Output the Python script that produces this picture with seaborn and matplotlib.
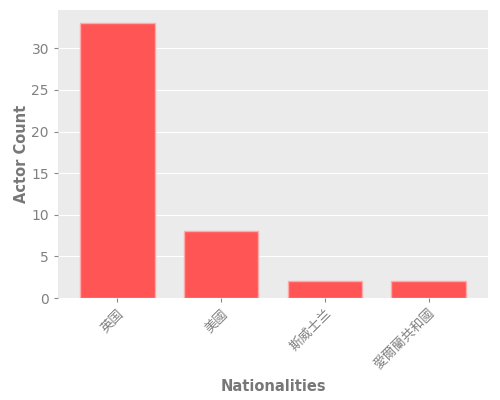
import matplotlib
matplotlib.use("Agg")
import matplotlib.pyplot as plt
import pandas as pd
import seaborn as sns

nationalities = ["英国", "美國", "斯威士兰", "愛爾蘭共和國"]
actor_counts = [33, 8, 2, 2]

df = pd.DataFrame({"nationality": nationalities, "count": actor_counts})

sns.set_style("darkgrid", {"axes.facecolor": "#EBEBEB", "grid.color": "white"})
plt.rcParams["font.family"] = ["DejaVu Sans", "Noto Sans CJK SC"]

fig, ax = plt.subplots(figsize=(5, 4), dpi=100)
sns.barplot(data=df, x="nationality", y="count", color="#FF5555", saturation=1,
            edgecolor="#FFAAAA", linewidth=1, width=0.72, ax=ax)

ax.set_xlim(-0.57, 3.57)
ax.set_ylim(0, 34.6)
ax.xaxis.grid(False)
ax.yaxis.grid(True, color="white", linewidth=0.8)
for s in ax.spines.values():
    s.set_visible(False)

ax.tick_params(axis="both", colors="#888888", labelcolor="#808080", length=3,
               width=0.8, labelsize=10, direction="out", bottom=True, left=True)
for lbl in ax.get_xticklabels():
    lbl.set_rotation(45)
    lbl.set_ha("right")
    lbl.set_rotation_mode("anchor")
    lbl.set_fontsize(9.5)
    lbl.set_family(["Noto Sans CJK SC", "DejaVu Sans"])

ax.set_xlabel("Nationalities", color="#777777", fontsize=10.5, fontweight="bold", labelpad=5)
ax.set_ylabel("Actor Count", color="#777777", fontsize=10.5, fontweight="bold", labelpad=2)

fig.subplots_adjust(left=0.116, right=0.976, top=0.975, bottom=0.255)
fig.savefig("out.png", dpi=100)
